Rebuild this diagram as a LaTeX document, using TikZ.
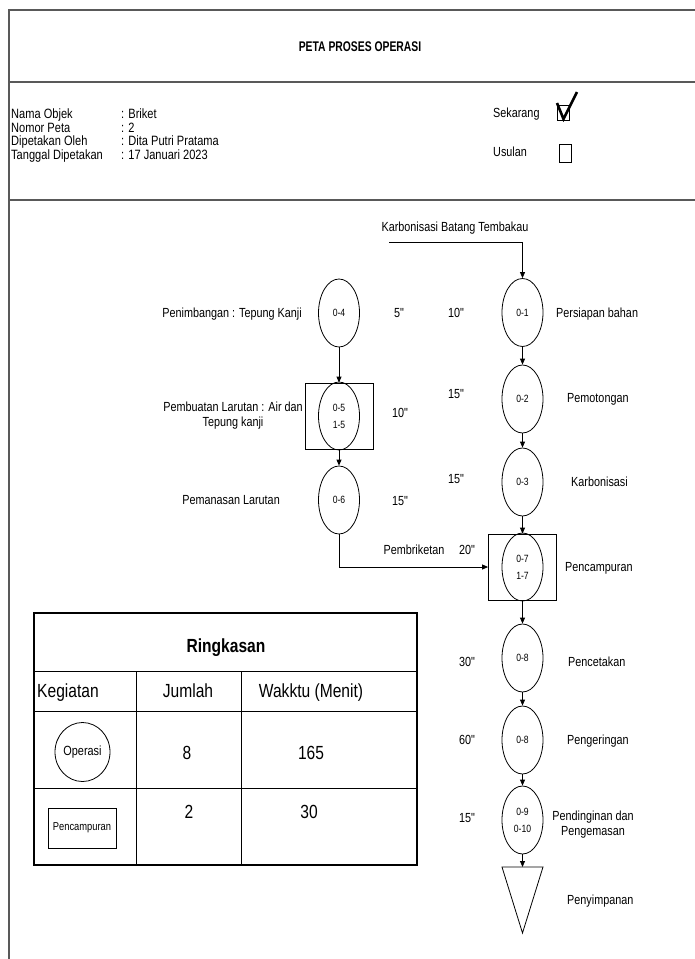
\documentclass[tikz,border=0pt]{standalone}
\usepackage{fontspec}
\setmainfont{Liberation Sans}[FakeStretch=0.82]
\newfontfamily\plainfont{Liberation Sans}[FakeStretch=0.82]
\newfontfamily\titlefont{Liberation Sans}[FakeStretch=0.74]
\usetikzlibrary{arrows.meta,shapes.geometric}
\begin{document}
\begin{tikzpicture}[x=1pt,y=-1pt,
  frame/.style={line width=1.4pt, black!65},
  op/.style={draw, ellipse, minimum width=41pt, minimum height=68pt, inner sep=0pt, align=center, font=\fontsize{10.5}{17}\selectfont, line width=0.8pt},
  opbox/.style={draw, minimum width=68pt, minimum height=66pt, inner sep=0pt, line width=0.8pt},
  arr/.style={-{Triangle[length=6pt,width=5pt]}, line width=0.8pt},
  lbl/.style={font=\fontsize{13.2}{16}\selectfont, inner sep=0pt, text height=9.5pt, text depth=0pt},
  tm/.style={font=\plainfont\fontsize{13.2}{16}\selectfont, inner sep=0pt, text height=9.5pt, text depth=0pt},
  mlbl/.style={font=\fontsize{13.2}{15}\selectfont, inner sep=0pt, align=center},
  info/.style={font=\fontsize{13.5}{16}\selectfont, inner sep=0pt, anchor=base west},
  tbl/.style={font=\fontsize{19}{22}\selectfont, inner sep=0pt, text height=13.6pt, text depth=0pt},
  tline/.style={line width=0.8pt},
]
\useasboundingbox (0,0) rectangle (695,959);

% frame
\draw[frame] (695,10) -- (9,10) -- (9,959);
\draw[frame] (9,82) -- (695,82);
\draw[frame] (9,200) -- (695,200);

% header
\node[font=\titlefont\bfseries\fontsize{14}{16}\selectfont, inner sep=0pt] (title) at (360,47) {PETA PROSES OPERASI};
\node[info] (n1) at (11,118) {Nama Objek};
\node[info] (v1) at (121,118) {: Briket};
\node[info] (n2) at (11,132) {Nomor Peta};
\node[info] (v2) at (121,132) {: 2};
\node[info] (n3) at (11,145) {Dipetakan Oleh};
\node[info] (v3) at (121,145) {: Dita Putri Pratama};
\node[info] (n4) at (11,159) {Tanggal Dipetakan};
\node[info] (v4) at (121,159) {: 17 Januari 2023};
\node[lbl, anchor=west] (sek) at (493,113) {Sekarang};
\node[lbl, anchor=west] (usu) at (493,152) {Usulan};
\node[draw, line width=0.8pt, minimum width=12pt, minimum height=15pt, inner sep=0pt] (cb1) at (563,112.5) {};
\draw[line width=2.6pt] (557,103) -- (563.5,119) -- (577,92);
\node[draw, line width=0.8pt, minimum width=12pt, minimum height=18pt, inner sep=0pt] (cb2) at (565,153) {};

% right column
\node[lbl] (kbt) at (455,227) {Karbonisasi Batang Tembakau};
\coordinate (kst) at (389,242);
\node[op] (o1) at (522.5,312.5) {0-1};
\node[op] (o2) at (522.5,399) {0-2};
\node[op] (o3) at (522.5,482) {0-3};
\node[opbox] (b7) at (522.5,567) {};
\node[op] (o7) at (522.5,567) {0-7\\1-7};
\node[op] (o8a) at (522.5,658) {0-8};
\node[op] (o8b) at (522.5,740) {0-8};
\node[op] (o9) at (522.5,820) {0-9\\0-10};
\coordinate (tri) at (522.5,867);
\draw[line width=0.8pt] (502,867) -- (543,867) -- (522.5,933) -- cycle;

% left column
\node[op] (o4) at (339,313) {0-4};
\node[opbox] (b5) at (339,416) {};
\node[op] (o5) at (339,416) {0-5\\1-5};
\node[op] (o6) at (339,500) {0-6};

% connectors
\draw[arr] (kst) -| (o1.north);
\draw[arr] (o1.south) -- (o2.north);
\draw[arr] (o2.south) -- (o3.north);
\draw[arr] (o3.south) -- (b7.north);
\draw[arr] (b7.south) -- (o8a.north);
\draw[arr] (o8a.south) -- (o8b.north);
\draw[arr] (o8b.south) -- (o9.north);
\draw[arr] (o9.south) -- (tri);
\draw[arr] (o4.south) -- (b5.north);
\draw[arr] (b5.south) -- (o6.north);
\draw[arr] (o6.south) |- (b7.west);

% labels
\node[lbl, anchor=east] (l4) at (302,313) {Penimbangan : Tepung Kanji};
\node[tm] (t4) at (399,313) {5"};
\node[tm] (t1) at (456,313) {10"};
\node[lbl, anchor=west] (l1) at (556,313) {Persiapan bahan};
\node[mlbl] (l5) at (233,416) {Pembuatan Larutan : Air dan\\Tepung kanji};
\node[tm] (t5) at (400,413) {10"};
\node[tm] (t2) at (456,394) {15"};
\node[lbl, anchor=west] (l2) at (567,398) {Pemotongan};
\node[lbl, anchor=east] (l6) at (280,500) {Pemanasan Larutan};
\node[tm] (t6) at (400,501) {15"};
\node[tm] (t3) at (456,479) {15"};
\node[lbl, anchor=west] (l3) at (571,482) {Karbonisasi};
\node[lbl] (lpb) at (414,550) {Pembriketan};
\node[tm] (t7) at (467,550) {20"};
\node[lbl, anchor=west] (l7) at (565,567) {Pencampuran};
\node[tm] (t8a) at (467,662) {30"};
\node[lbl, anchor=west] (l8a) at (568,662) {Pencetakan};
\node[tm] (t8b) at (467,740) {60"};
\node[lbl, anchor=west] (l8b) at (567,740) {Pengeringan};
\node[tm] (t9) at (467,818) {15"};
\node[mlbl] (l9) at (593,825) {Pendinginan dan\\Pengemasan};
\node[lbl, anchor=west] (l10) at (567,900) {Penyimpanan};

% summary table
\draw[line width=1.3pt] (34,613) rectangle (417,865);
\draw[tline] (34,671) -- (417,671);
\draw[tline] (34,711) -- (417,711);
\draw[tline] (34,788) -- (417,788);
\draw[tline] (136,671) -- (136,865);
\draw[tline] (241,671) -- (241,865);
\node[tbl, font=\bfseries\fontsize{19}{22}\selectfont] (rk) at (226,646) {Ringkasan};
\node[tbl, anchor=west] (hk) at (37,691) {Kegiatan};
\node[tbl] (hj) at (188,691) {Jumlah};
\node[tbl] (hw) at (311,691) {Wakktu (Menit)};
\node[draw, ellipse, minimum width=55pt, minimum height=59pt, inner sep=0pt, font=\fontsize{13.3}{15}\selectfont, line width=0.8pt] (sop) at (82.5,752) {Operasi};
\node[tbl] (c8) at (187,753) {8};
\node[tbl] (c165) at (311,753) {165};
\node[draw, minimum width=68pt, minimum height=40pt, inner sep=0pt, font=\fontsize{11.4}{13}\selectfont, line width=0.8pt] (spc) at (82,828) {Pencampuran};
\node[tbl] (c2) at (189,812) {2};
\node[tbl] (c30) at (309,812) {30};
\end{tikzpicture}
\end{document}
